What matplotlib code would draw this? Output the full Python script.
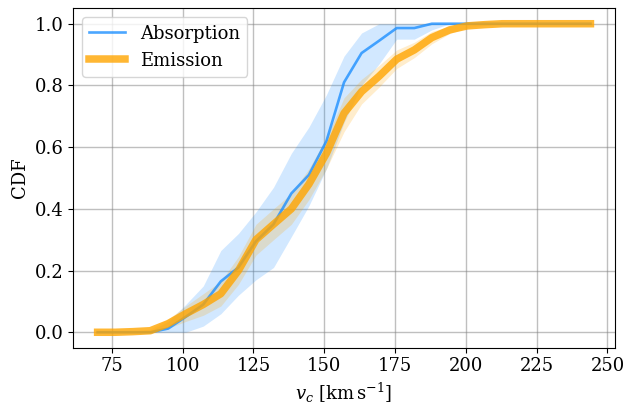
import matplotlib
matplotlib.use("Agg")
import matplotlib.pyplot as plt

plt.rcParams['font.family'] = ['DejaVu Serif']
plt.rcParams['mathtext.fontset'] = 'dejavuserif'

v_c = [70.0, 76.2, 82.4, 88.6, 94.9, 101.1, 107.3, 113.5, 119.7, 125.9,
       132.1, 138.4, 144.6, 150.8, 157.0, 163.2, 169.4, 175.6, 181.8, 188.0,
       194.3, 200.5, 206.7, 212.9, 219.1, 225.3, 231.5, 237.8, 244.0]

absorption = [0, 0, 0, 0, 0.012, 0.05, 0.09, 0.165, 0.21, 0.295,
              0.35, 0.45, 0.51, 0.62, 0.81, 0.905, 0.945, 0.986, 0.986, 1.0,
              1.0, 1.0, 1.0, 1.0, 1.0, 1.0, 1.0, 1.0, 1.0]
absorption_lo = [0, 0, 0, 0, 0, 0, 0.02, 0.06, 0.12, 0.17,
                 0.21, 0.31, 0.41, 0.53, 0.68, 0.80, 0.87, 0.95, 0.95, 0.98,
                 1.0, 1.0, 1.0, 1.0, 1.0, 1.0, 1.0, 1.0, 1.0]
absorption_hi = [0, 0, 0, 0.005, 0.035, 0.09, 0.15, 0.265, 0.32, 0.39,
                 0.47, 0.58, 0.665, 0.77, 0.895, 0.97, 1.0, 1.0, 1.0, 1.0,
                 1.0, 1.0, 1.0, 1.0, 1.0, 1.0, 1.0, 1.0, 1.0]

emission = [0, 0, 0.002, 0.005, 0.028, 0.06, 0.09, 0.125, 0.20, 0.30,
            0.35, 0.40, 0.48, 0.58, 0.71, 0.78, 0.83, 0.885, 0.915, 0.955,
            0.98, 0.993, 0.997, 1.0, 1.0, 1.0, 1.0, 1.0, 1.0]
emission_lo = [0, 0, 0, 0, 0.013, 0.035, 0.055, 0.085, 0.155, 0.25,
               0.30, 0.35, 0.43, 0.53, 0.65, 0.74, 0.795, 0.855, 0.89, 0.935,
               0.968, 0.988, 0.994, 1.0, 1.0, 1.0, 1.0, 1.0, 1.0]
emission_hi = [0, 0, 0.004, 0.01, 0.043, 0.085, 0.125, 0.165, 0.245, 0.35,
               0.40, 0.45, 0.53, 0.63, 0.76, 0.82, 0.865, 0.915, 0.94, 0.975,
               0.992, 0.998, 1.0, 1.0, 1.0, 1.0, 1.0, 1.0, 1.0]

fig = plt.figure(figsize=(6.27, 4.05), dpi=100)
ax = fig.add_axes([0.1164, 0.1415, 0.8646, 0.838])

ax.fill_between(v_c, absorption_lo, absorption_hi, color='dodgerblue', alpha=0.2, lw=0)
ax.fill_between(v_c, emission_lo, emission_hi, color='orange', alpha=0.2, lw=0)
ax.plot(v_c, absorption, color='dodgerblue', alpha=0.8, lw=1.9, label='Absorption')
ax.plot(v_c, emission, color='orange', alpha=0.8, lw=5.4, label='Emission')

ax.grid(True, color='gray', alpha=0.5, lw=1)
ax.set_axisbelow(True)
ax.set_xticks([75, 100, 125, 150, 175, 200, 225, 250])
ax.set_yticks([0.0, 0.2, 0.4, 0.6, 0.8, 1.0])
ax.tick_params(labelsize=13)
ax.set_xlabel(r'$v_c$ [km$\,$s$^{-1}$]', fontsize=13)
ax.set_ylabel('CDF', fontsize=13)
ax.legend(loc='upper left', fontsize=13)

fig.savefig('out.png', dpi=100)
